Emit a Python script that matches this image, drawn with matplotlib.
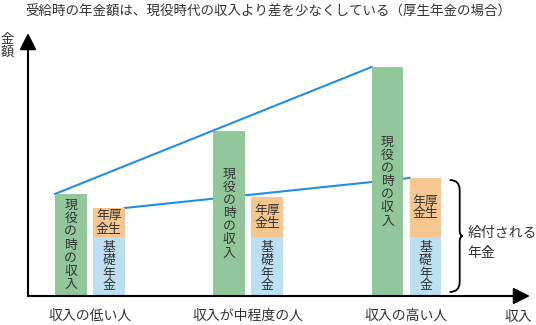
import numpy as np
import matplotlib.pyplot as plt
from matplotlib.path import Path
from matplotlib.patches import PathPatch

plt.rcParams['font.family'] = ['Noto Sans CJK JP', 'DejaVu Sans']

categories = ['収入の低い人', '収入が中程度の人', '収入の高い人']
income = [102, 165, 229]      # 現役の時の収入
basic = [59, 59, 59]          # 基礎年金
kosei = [29, 40, 59]          # 厚生年金

green = '#92c69b'
orange = '#f6c691'
blue = '#bddff2'
line_c = '#1f8ee3'
txt = '#333333'

fig = plt.figure(figsize=(5.36, 3.25), dpi=100)
ax = fig.add_axes([28/536, 29/325, 502/536, 263/325])
ax.set_xlim(-0.39, 2.78)
ax.set_ylim(0, 263)

x = np.arange(len(categories))
w = 0.2
xg = x - 0.12
xs = x + 0.12
total = np.array(basic) + np.array(kosei)

ax.bar(xg, income, w, color=green, zorder=2)
ax.bar(xs, basic, w, color=blue, zorder=2)
ax.bar(xs, kosei, w, bottom=basic, color=orange, zorder=2)

# lines joining the tops
ax.plot([xg[0]-w/2, xg[-1]-w/2], [income[0], income[-1]], color=line_c, lw=1.5, zorder=1)
ax.plot([xs[0]+w/2, xs[-1]-w/2], [total[0], total[-1]], color=line_c, lw=1.5, zorder=1)

for i in range(len(categories)):
    ax.text(xg[i], income[i]/2, '\n'.join('現役の時の収入'), ha='center', va='center',
            fontsize=9.3, linespacing=1.02, color=txt, zorder=3)
    ax.text(xs[i], basic[i] + kosei[i]/2, '年厚\n金生', ha='center', va='center',
            fontsize=9.3, linespacing=1.0, color=txt, zorder=3)
    ax.text(xs[i], basic[i]/2, '\n'.join('基礎年金'), ha='center', va='center',
            fontsize=9.3, linespacing=1.0, color=txt, zorder=3)

# brace next to the last pension bar
bx0 = xs[-1] + w/2 + 0.053
bx1 = xs[-1] + w/2 + 0.116
yt = total[-1] - 2
yb = 4
ym = (yt + yb) / 2
verts = [(bx0, yt), (bx1, yt), (bx1, yt - 10),
         (bx1, ym + 6), (bx1, ym), (bx1 + 0.02, ym),
         (bx1, ym), (bx1, ym - 6),
         (bx1, yb + 10), (bx1, yb), (bx0, yb)]
codes = [Path.MOVETO, Path.CURVE3, Path.CURVE3,
         Path.LINETO, Path.CURVE3, Path.CURVE3,
         Path.CURVE3, Path.CURVE3,
         Path.LINETO, Path.CURVE3, Path.CURVE3]
ax.add_patch(PathPatch(Path(verts, codes), fill=False, lw=1.3, color='black', clip_on=False))
ax.text(xs[-1] + w/2 + 0.167, 53, '給付される\n年金', ha='left', va='center',
        fontsize=10, linespacing=1.5, color=txt)

# axes with arrows
for s in ax.spines.values():
    s.set_visible(False)
ax.set_yticks([])
ax.set_xticks(x, categories)
ax.tick_params(axis='x', length=0, pad=9, labelsize=10, labelcolor=txt)
ap = dict(arrowstyle='-|>,head_length=1.0,head_width=0.5', lw=1.5, color='black',
          shrinkA=0, shrinkB=0)
ax.annotate('', xy=(0, 1), xytext=(0, 0), xycoords='axes fraction', arrowprops=ap)
ax.annotate('', xy=(1, 0), xytext=(0, 0), xycoords='axes fraction', arrowprops=ap)

fig.text(7/536, 1 - 46/325, '金\n額', ha='center', va='center', fontsize=9.5,
         linespacing=1.0, color=txt)
fig.text(518/536, 1 - 317/325, '収入', ha='center', va='center', fontsize=10, color=txt)
fig.text(25/536, 1 - 12/325, '受給時の年金額は、現役時代の収入より差を少なくしている（厚生年金の場合）',
         ha='left', va='center', fontsize=9.7, color=txt)

fig.savefig('out.png', dpi=100)
